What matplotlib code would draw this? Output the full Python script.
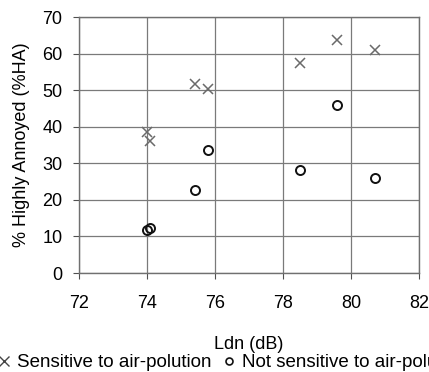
import matplotlib.pyplot as plt
from matplotlib.lines import Line2D

plt.rcParams['font.family'] = ['Liberation Sans', 'DejaVu Sans']

# sensitive to air pollution (crosses)
sens_ldn = [74.0, 74.1, 75.4, 75.8, 78.5, 79.6, 80.7]
sens_ha = [38.5, 36.0, 51.6, 50.3, 57.5, 63.8, 61.0]

# not sensitive to air pollution (circles)
notsens_ldn = [74.0, 74.1, 75.4, 75.8, 78.5, 79.6, 80.7]
notsens_ha = [11.9, 12.3, 22.6, 33.7, 28.3, 46.0, 25.9]

xticks = [72, 74, 76, 78, 80, 82]
yticks = [0, 10, 20, 30, 40, 50, 60, 70]

fig = plt.figure(figsize=(4.29, 3.72), dpi=100)
ax = fig.add_axes([0.184, 0.266, 0.793, 0.688])

ax.plot(sens_ldn, sens_ha, linestyle='none', marker='x', markersize=7.5,
        markeredgewidth=1.1, color='#6a6a6a')
ax.plot(notsens_ldn, notsens_ha, linestyle='none', marker='o', markersize=6.5,
        markerfacecolor='none', markeredgewidth=1.4, markeredgecolor='#111111')

ax.set_xlim(72, 82)
ax.set_ylim(0, 70)
ax.set_xticks(xticks)
ax.set_yticks(yticks)
ax.grid(True, color='#7a7a7a', linewidth=0.9)
ax.set_axisbelow(True)
for s in ax.spines.values():
    s.set_color('#707070')
    s.set_linewidth(1.0)
ax.tick_params(labelsize=13, length=4, color='#505050')
ax.tick_params(axis='y', pad=8)
ax.tick_params(axis='x', pad=12)

ax.set_xlabel('Ldn (dB)', fontsize=13, labelpad=17)
ax.set_ylabel('% Highly Annoyed (%HA)', fontsize=13, labelpad=9)

handles = [
    Line2D([], [], linestyle='none', marker='x', markersize=7, markeredgewidth=1.0, color='#444444'),
    Line2D([], [], linestyle='none', marker='o', markersize=5, markerfacecolor='none',
           markeredgewidth=1.2, markeredgecolor='#111111'),
]
# the reference image cuts the second legend entry at the right edge
fig.legend(handles, ['Sensitive to air-polution', 'Not sensitive to air-polution'],
           loc='lower left', bbox_to_anchor=(-0.025, -0.018), ncol=2, frameon=False,
           fontsize=13.5, handlelength=0.8, handletextpad=0.3, columnspacing=0.5,
           borderaxespad=0)

fig.savefig('out.png', dpi=100)
